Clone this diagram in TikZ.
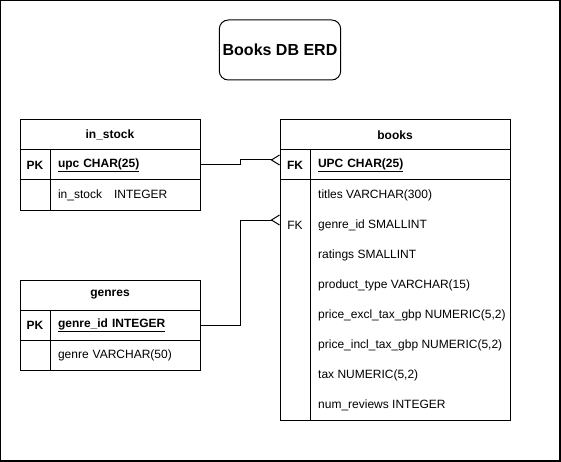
\documentclass[tikz,border=0pt]{standalone}
\usepackage{fontspec}
\setmainfont{Liberation Sans}
\usetikzlibrary{arrows.meta}

\tikzset{
	cell/.style={draw,line width=1pt,inner sep=0pt,outer sep=0pt,anchor=north west,font=\fontsize{12}{14}\selectfont},
	headcell/.style={cell,minimum height=30pt,font=\fontsize{12}{14}\selectfont\bfseries},
	keycell/.style={cell,minimum width=30pt,minimum height=30pt,font=\fontsize{12}{14}\selectfont\bfseries},
	fieldcell/.style={cell,minimum height=30pt,inner xsep=8pt,align=left},
	fieldtext/.style={anchor=west,inner sep=0pt,font=\fontsize{12}{14}\selectfont},
	many/.style={line width=1pt,-{Straight Barb[reversed,length=8pt,width=10pt]}},
}

\begin{document}
\begin{tikzpicture}[x=1pt,y=-1pt]
\useasboundingbox (0,0) rectangle (561,462);
\draw[line width=1.3pt] (0.7,0.7) rectangle (560,461);

\node[draw,line width=1pt,rounded corners=9pt,minimum width=120pt,minimum height=60pt,
	font=\fontsize{16}{19}\selectfont\bfseries] (title) at (280,50) {Books DB ERD};

% in_stock
\node[headcell,minimum width=180pt] (stockhead) at (20,120) {in\_stock};
\node[keycell] (stockpk) at (20,150) {PK};
\node[fieldcell,text width=134pt,font=\fontsize{12}{14}\selectfont\bfseries] (stockupc) at (50,150) {\underline{upc CHAR(25)}};
\node[keycell] (stockkey) at (20,180) {};
\node[fieldcell,text width=134pt] (stockqty) at (50,180) {in\_stock\ \ \ INTEGER};

% genres
\node[headcell,minimum width=180pt] (genrehead) at (20,280) {genres};
\node[keycell] (genrepk) at (20,310) {PK};
\node[fieldcell,text width=134pt,font=\fontsize{12}{14}\selectfont\bfseries] (genreid) at (50,310) {\underline{genre\_id INTEGER}};
\node[keycell] (genrekey) at (20,340) {};
\node[fieldcell,text width=134pt] (genrename) at (50,340) {genre VARCHAR(50)};

% books
\node[headcell,minimum width=230pt] (bookshead) at (280,120) {books};
\node[keycell] (booksfk) at (280,150) {FK};
\node[fieldcell,text width=184pt,font=\fontsize{12}{14}\selectfont\bfseries] (booksupc) at (310,150) {\underline{UPC CHAR(25)}};
\node[keycell,minimum height=240pt] (bookskey) at (280,180) {};
\node[cell,minimum width=200pt,minimum height=240pt] (booksbody) at (310,180) {};
\node[font=\fontsize{12}{14}\selectfont] (booksgenrefk) at (295,225) {FK};
\foreach \field [count=\i] in {titles VARCHAR(300),genre\_id SMALLINT,ratings SMALLINT,
	product\_type VARCHAR(15),price\_excl\_tax\_gbp NUMERIC(5{,}2),price\_incl\_tax\_gbp NUMERIC(5{,}2),
	tax NUMERIC(5{,}2),num\_reviews INTEGER}
	\node[fieldtext] (field\i) at (318,165+30*\i) {\field};

% relations
\coordinate (genreend) at (280,220);
\draw[many] (stockupc.east) -- ++(40,0) |- ([yshift=5pt]booksfk.west);
\draw[many] (genreid.east) -- ++(40,0) |- (genreend);
\end{tikzpicture}
\end{document}
